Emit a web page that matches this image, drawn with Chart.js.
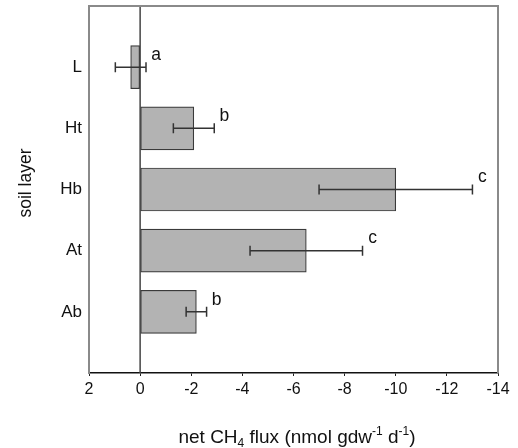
<!DOCTYPE html>
<html>
<head>
<meta charset="utf-8">
<script src="https://cdn.jsdelivr.net/npm/chart.js@4"></script>
<style>
  html, body { margin: 0; padding: 0; background: #fff; }
  #wrap { width: 518px; height: 448px; }
</style>
</head>
<body>
<div id="wrap"><canvas id="chart" width="518" height="448"></canvas></div>
<script>
// data
const layers = ['L', 'Ht', 'Hb', 'At', 'Ab'];
const fluxMean = [0.37, -2.1, -10.0, -6.5, -2.2];
const fluxErr = [0.6, 0.8, 3.0, 2.2, 0.4];
const groupLetters = ['a', 'b', 'c', 'c', 'b'];
const xTicks = [2, 0, -2, -4, -6, -8, -10, -12, -14];

const FONT = 'Liberation Sans, Arial, Helvetica, sans-serif';

// empty slot above and below so the bars sit a full slot from the frame
const yLabels = [''].concat(layers, ['']);
const yData = [null].concat(fluxMean, [null]);

// frame, zero line, error bars, letters and the axis titles
const extras = {
  id: 'extras',
  beforeDatasetsDraw(chart) {
    const { ctx, chartArea: a, scales } = chart;
    ctx.save();
    ctx.strokeStyle = '#444';
    ctx.lineWidth = 1.5;
    const x0 = scales.x.getPixelForValue(0);
    ctx.beginPath();
    ctx.moveTo(x0, a.top);
    ctx.lineTo(x0, a.bottom);
    ctx.stroke();
    ctx.restore();
  },
  afterDatasetsDraw(chart) {
    const { ctx, chartArea: a, scales } = chart;
    const x = scales.x, y = scales.y;
    ctx.save();
    // top and right part of the frame
    ctx.strokeStyle = '#8a8a8a';
    ctx.lineWidth = 2;
    ctx.beginPath();
    ctx.moveTo(a.left, a.top);
    ctx.lineTo(a.right, a.top);
    ctx.lineTo(a.right, a.bottom);
    ctx.stroke();

    // error bars
    ctx.strokeStyle = '#333';
    ctx.lineWidth = 1.5;
    layers.forEach((lab, i) => {
      const yc = y.getPixelForValue(i + 1);
      const xl = x.getPixelForValue(fluxMean[i] + fluxErr[i]);
      const xr = x.getPixelForValue(fluxMean[i] - fluxErr[i]);
      ctx.beginPath();
      ctx.moveTo(xl, yc); ctx.lineTo(xr, yc);
      ctx.moveTo(xl, yc - 5); ctx.lineTo(xl, yc + 5);
      ctx.moveTo(xr, yc - 5); ctx.lineTo(xr, yc + 5);
      ctx.stroke();

      ctx.fillStyle = '#111';
      ctx.font = '17.5px ' + FONT;
      ctx.textAlign = 'center';
      ctx.textBaseline = 'middle';
      ctx.fillText(groupLetters[i], Math.max(xr, xl) + 10, yc - 12);
    });

    // y axis title
    ctx.save();
    ctx.translate(26, 183);
    ctx.rotate(-Math.PI / 2);
    ctx.font = '17.5px ' + FONT;
    ctx.textAlign = 'center';
    ctx.textBaseline = 'middle';
    ctx.fillText('soil layer', 0, 0);
    ctx.restore();

    // x axis title
    const parts = [
      ['net CH', 0], ['4', 1], [' flux (nmol gdw', 0], ['-1', -1], [' d', 0], ['-1', -1], [')', 0]
    ];
    const big = '19px ' + FONT, small = '12px ' + FONT;
    let total = 0;
    parts.forEach(p => { ctx.font = p[1] ? small : big; total += ctx.measureText(p[0]).width; });
    let tx = 297 - total / 2;
    const ty = 437;
    ctx.textAlign = 'left';
    ctx.textBaseline = 'alphabetic';
    ctx.fillStyle = '#111';
    parts.forEach(p => {
      ctx.font = p[1] ? small : big;
      ctx.fillText(p[0], tx, ty + 6 + p[1] * 4 + (p[1] < 0 ? -4 : 0));
      tx += ctx.measureText(p[0]).width;
    });
    ctx.restore();
  }
};

new Chart(document.getElementById('chart').getContext('2d'), {
  type: 'bar',
  data: {
    labels: yLabels,
    datasets: [{
      data: yData,
      backgroundColor: '#b3b3b3',
      borderColor: '#3a3a3a',
      borderWidth: 1.2,
      borderSkipped: false,
      barThickness: 43
    }]
  },
  options: {
    indexAxis: 'y',
    responsive: false,
    animation: false,
    layout: { padding: { left: 0, top: 6, right: 20, bottom: 0 } },
    plugins: {
      legend: { display: false },
      tooltip: { enabled: false }
    },
    scales: {
      x: {
        type: 'linear',
        min: -14,
        max: 2,
        reverse: true,
        afterBuildTicks: s => { s.ticks = xTicks.map(v => ({ value: v })); },
        afterFit: s => { s.height = 75; },
        grid: { display: true, drawOnChartArea: false, drawTicks: true, tickLength: 3, color: '#222', lineWidth: 1 },
        border: { display: true, color: '#111', width: 1.5 },
        ticks: {
          color: '#111',
          padding: 4,
          maxRotation: 0,
          font: { family: FONT, size: 16 },
          callback: v => String(v)
        }
      },
      y: {
        type: 'category',
        offset: false,
        afterFit: s => { s.width = 89; s.paddingTop = 0; s.paddingBottom = 0; },
        grid: { display: false, drawTicks: false },
        border: { display: true, color: '#8a8a8a', width: 2 },
        ticks: {
          color: '#111',
          padding: 7,
          autoSkip: false,
          font: { family: FONT, size: 17 }
        }
      }
    }
  },
  plugins: [extras]
});
</script>
</body>
</html>
